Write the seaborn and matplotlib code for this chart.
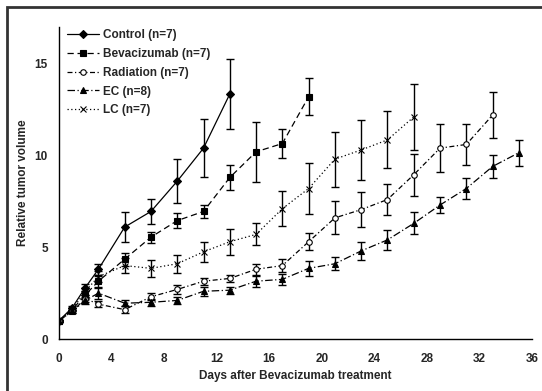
import matplotlib
matplotlib.use("Agg")
import matplotlib.pyplot as plt
import seaborn as sns
import pandas as pd
from matplotlib.patches import Rectangle

# ---- data ----
days_control = [0, 1, 2, 3, 5, 7, 9, 11, 13]
control = [1.0, 1.7, 2.8, 3.8, 6.1, 6.95, 8.6, 10.4, 13.35]
control_err = [0.05, 0.1, 0.2, 0.3, 0.8, 0.7, 1.2, 1.6, 1.9]

days_bev = [0, 1, 2, 3, 5, 7, 9, 11, 13, 15, 17, 19]
bev = [1.0, 1.6, 2.4, 3.15, 4.35, 5.55, 6.45, 6.95, 8.8, 10.2, 10.65, 13.2]
bev_err = [0.05, 0.1, 0.2, 0.3, 0.35, 0.3, 0.4, 0.35, 0.7, 1.65, 0.8, 1.0]

days_rad = [0, 1, 2, 3, 5, 7, 9, 11, 13, 15, 17, 19, 21, 23, 25, 27, 29, 31, 33]
rad = [1.0, 1.5, 2.2, 1.9, 1.6, 2.3, 2.7, 3.15, 3.3, 3.8, 4.0, 5.3, 6.6, 7.05, 7.6, 8.95, 10.4, 10.6, 12.2]
rad_err = [0.05, 0.1, 0.2, 0.15, 0.2, 0.2, 0.25, 0.2, 0.2, 0.3, 0.35, 0.45, 0.9, 0.95, 0.85, 1.15, 1.3, 1.1, 1.25]

days_ec = [0, 1, 2, 3, 5, 7, 9, 11, 13, 15, 17, 19, 21, 23, 25, 27, 29, 31, 33, 35]
ec = [1.0, 1.5, 2.1, 2.5, 1.95, 2.0, 2.1, 2.6, 2.66, 3.15, 3.25, 3.85, 4.1, 4.8, 5.4, 6.3, 7.3, 8.2, 9.4, 10.15]
ec_err = [0.05, 0.1, 0.2, 0.3, 0.15, 0.2, 0.2, 0.25, 0.2, 0.3, 0.3, 0.4, 0.35, 0.5, 0.55, 0.6, 0.45, 0.55, 0.65, 0.7]

days_lc = [0, 1, 2, 3, 5, 7, 9, 11, 13, 15, 17, 19, 21, 23, 25, 27]
lc = [1.0, 1.6, 2.6, 3.4, 4.0, 3.85, 4.1, 4.75, 5.3, 5.7, 7.1, 8.2, 9.8, 10.3, 10.85, 12.1]
lc_err = [0.05, 0.1, 0.2, 0.3, 0.4, 0.45, 0.5, 0.55, 0.7, 0.6, 0.95, 1.4, 1.5, 1.65, 1.55, 1.8]

labels = ["Control (n=7)", "Bevacizumab (n=7)", "Radiation (n=7)", "EC (n=8)", "LC (n=7)"]
x_ticks = [0, 4, 8, 12, 16, 20, 24, 28, 32, 36]
y_ticks = [0, 5, 10, 15]

series = [
    (labels[0], days_control, control, control_err),
    (labels[1], days_bev, bev, bev_err),
    (labels[2], days_rad, rad, rad_err),
    (labels[3], days_ec, ec, ec_err),
    (labels[4], days_lc, lc, lc_err),
]

styles = {
    labels[0]: dict(ls="-", marker="D", ms=4, mfc="black"),
    labels[1]: dict(ls=(0, (5, 3)), marker="s", ms=4.5, mfc="black"),
    labels[2]: dict(ls=(0, (4, 2, 1, 2)), marker="o", ms=4, mfc="white"),
    labels[3]: dict(ls=(0, (6, 2, 1, 2)), marker="^", ms=5, mfc="black"),
    labels[4]: dict(ls=(0, (1, 2)), marker="x", ms=5, mfc="black"),
}

sns.set_style("white")
plt.rcParams["font.family"] = ["Liberation Sans", "DejaVu Sans"]
plt.rcParams["font.weight"] = "bold"

fig = plt.figure(figsize=(5.42, 3.91), dpi=100)
ax = fig.add_axes([59 / 542, 1 - 339 / 391, (532 - 59) / 542, (339 - 27) / 391])

for name, d, v, e in series:
    df = pd.DataFrame({"day": d, "value": v})
    ax.errorbar(d, v, yerr=e, fmt="none", ecolor="black", elinewidth=1.0,
                capsize=3, capthick=1.0, zorder=2)
    st = styles[name]
    sns.lineplot(data=df, x="day", y="value", ax=ax, color="black", lw=0.9,
                 linestyle=st["ls"], marker=st["marker"], markersize=st["ms"],
                 markerfacecolor=st["mfc"], markeredgecolor="black",
                 markeredgewidth=0.8, label=name, zorder=3)

ax.set_xlim(0, 36)
ax.set_ylim(0, 17)
ax.set_xticks(x_ticks)
ax.set_yticks(y_ticks)
ax.set_xticklabels([str(t) for t in x_ticks], fontsize=8.5, fontweight="bold")
ax.set_yticklabels([str(t) for t in y_ticks], fontsize=8.5, fontweight="bold")
ax.tick_params(axis="both", direction="in", length=3, width=0.8, color="black", pad=8)
ax.tick_params(axis="x", pad=10)
for s in ["top", "right"]:
    ax.spines[s].set_visible(False)
for s in ["left", "bottom"]:
    ax.spines[s].set_color("black")
    ax.spines[s].set_linewidth(1.0)

ax.set_xlabel("Days after Bevacizumab treatment", fontsize=8.5, fontweight="bold", labelpad=4)
ax.set_ylabel("Relative tumor volume", fontsize=8.5, fontweight="bold", labelpad=4)

leg = ax.legend(loc="upper left", bbox_to_anchor=(0.0, 1.02), frameon=False,
                prop={"size": 8.5, "weight": "bold"}, handlelength=2.7,
                handletextpad=0.3, labelspacing=0.58, borderaxespad=0.3)

fig.patches.append(Rectangle((7 / 542, -0.1), 1.2, 1.1 - 7 / 391, transform=fig.transFigure,
                             fill=False, edgecolor="#333333", lw=2, zorder=10))

fig.savefig("out.png", dpi=100)
